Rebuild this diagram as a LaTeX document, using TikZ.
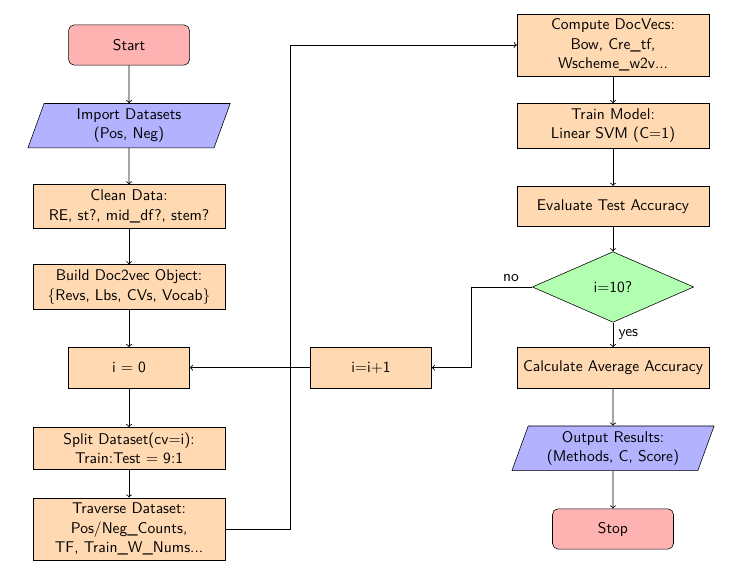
\documentclass[tikz,border=0pt,11pt]{standalone}
\usetikzlibrary{shapes.geometric}
\renewcommand{\familydefault}{\sfdefault}
\tikzset{
  startstop/.style={rectangle, rounded corners, minimum width=3cm, minimum height=1cm, align=center, draw=black, fill=red!30},
  io/.style={trapezium, trapezium left angle=70, trapezium right angle=110, text width=3.95cm, align=center, minimum height=1.1cm, draw=black, fill=blue!30},
  process/.style={rectangle, minimum width=3cm, minimum height=1cm, align=center, draw=black, fill=orange!30},
  wideproc/.style={process, text width=4.5cm},
  decision/.style={diamond, minimum width=4cm, minimum height=1.74cm, align=center, draw=black, fill=green!30},
  arrow/.style={semithick, ->}
}
\begin{document}
\begin{tikzpicture}
\useasboundingbox (-3.2,1.116) rectangle (15.05,-13.09);
% left column
\node[startstop] (start) at (0,0) {Start};
\node[io] (import) at (0,-2) {Import Datasets\\(Pos, Neg)};
\node[wideproc] (clean) at (0,-4) {Clean Data:\\RE, st?, mid\_df?, stem?};
\node[wideproc] (build) at (0,-6) {Build Doc2vec Object:\\\{Revs, Lbs, CVs, Vocab\}};
\node[process] (init) at (0,-8) {i = 0};
\node[wideproc] (split) at (0,-10) {Split Dataset(cv=i):\\Train:Test = 9:1};
\node[wideproc] (trav) at (0,-12) {Traverse Dataset:\\Pos/Neg\_Counts,\\TF, Train\_W\_Nums...};
% middle
\node[process] (inc) at (6,-8) {i=i+1};
% right column
\node[wideproc] (docvec) at (12,0) {Compute DocVecs:\\Bow, Cre\_tf,\\Wscheme\_w2v...};
\node[wideproc] (train) at (12,-2) {Train Model:\\Linear SVM (C=1)};
\node[wideproc] (eval) at (12,-4) {Evaluate Test Accuracy};
\node[decision] (dec) at (12,-6) {i=10?};
\node[wideproc] (avg) at (12,-8) {Calculate Average Accuracy};
\node[io] (out) at (12,-10) {Output Results:\\(Methods, C, Score)};
\node[startstop] (stop) at (12,-12) {Stop};
\coordinate (up) at (4,-12);
\coordinate (back) at (8.5,-6);
% connectors
\draw[arrow] (start) -- (import);
\draw[arrow] (import) -- (clean);
\draw[arrow] (clean) -- (build);
\draw[arrow] (build) -- (init);
\draw[arrow] (init) -- (split);
\draw[arrow] (split) -- (trav);
\draw[arrow] (trav.east) -- (up) |- (docvec.west);
\draw[arrow] (docvec) -- (train);
\draw[arrow] (train) -- (eval);
\draw[arrow] (eval) -- (dec);
\draw[arrow] (dec.west) -- node[above, pos=0.35] {no} (back) |- (inc.east);
\draw[arrow] (dec.south) -- node[right] {yes} (avg.north);
\draw[arrow] (inc) -- (init);
\draw[arrow] (avg) -- (out);
\draw[arrow] (out) -- (stop);
\end{tikzpicture}
\end{document}
